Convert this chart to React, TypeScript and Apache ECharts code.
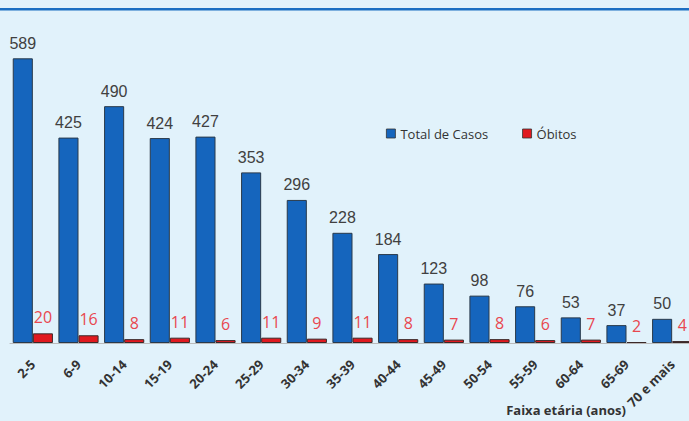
import React, { useEffect, useRef } from "react";
import * as echarts from "echarts";

const categories = ["2-5", "6-9", "10-14", "15-19", "20-24", "25-29", "30-34", "35-39", "40-44", "45-49", "50-54", "55-59", "60-64", "65-69", "70 e mais"];
const totalCasos = [589, 425, 490, 424, 427, 353, 296, 228, 184, 123, 98, 76, 53, 37, 50];
const obitos = [20, 16, 8, 11, 6, 11, 9, 11, 8, 7, 8, 6, 7, 2, 4];
const seriesNames = ["Total de Casos", "Óbitos"];
const xTitle = "Faixa etária (anos)";

export default function App() {
  const ref = useRef<HTMLDivElement>(null);
  useEffect(() => {
    document.body.style.margin = "0";
    document.body.style.background = "#e1f2fb";
    const chart = echarts.init(ref.current!, null, { renderer: "svg" });
    chart.setOption({
      animation: false,
      backgroundColor: "#e1f2fb",
      grid: { left: 10, right: 0, top: 53, bottom: 78 },
      legend: {
        left: 381,
        top: 122,
        itemGap: 34,
        itemWidth: 9,
        itemHeight: 9,
        icon: "rect",
        textStyle: { fontFamily: "Open Sans", fontSize: 13, color: "#333" },
        data: [
          { name: seriesNames[0], itemStyle: { borderColor: "#333", borderWidth: 0.8 } },
          { name: seriesNames[1], itemStyle: { borderColor: "#333", borderWidth: 0.8 } },
        ],
      },
      xAxis: {
        type: "category",
        data: categories,
        axisLine: { show: true, lineStyle: { color: "#bbb", width: 1 } },
        axisTick: { show: false },
        axisLabel: {
          rotate: 45,
          interval: 0,
          margin: 19,
          fontFamily: "Open Sans",
          fontWeight: "bold",
          fontSize: 13,
          color: "#333",
        },
      },
      yAxis: {
        type: "value",
        min: 0,
        max: 600,
        show: false,
        splitLine: { show: false },
      },
      graphic: [
        {
          type: "rect",
          shape: { x: 0, y: 8, width: 700, height: 2.5 },
          style: { fill: "#1b6ec2" },
        },
        {
          type: "text",
          x: 566,
          y: 410,
          style: {
            text: xTitle,
            fontFamily: "Open Sans",
            fontWeight: "bold",
            fontSize: 13,
            fill: "#333",
            align: "center",
            verticalAlign: "middle",
          },
        },
      ],
      series: [
        {
          name: seriesNames[0],
          type: "bar",
          data: totalCasos,
          barGap: "0%",
          barCategoryGap: "12%",
          itemStyle: { color: "#1565bd", borderColor: "#2a3a4a", borderWidth: 1 },
          label: {
            show: true,
            position: "top",
            distance: 7,
            fontFamily: "Liberation Sans",
            fontSize: 16,
            color: "#404040",
          },
        },
        {
          name: seriesNames[1],
          type: "bar",
          data: obitos,
          itemStyle: { color: "#e0191f", borderColor: "#3a2a2a", borderWidth: 1 },
          label: {
            show: true,
            position: "top",
            distance: 8,
            fontFamily: "Open Sans",
            fontSize: 16,
            color: "#e8474f",
          },
        },
      ],
    });
    return () => chart.dispose();
  }, []);
  return (
    <div style={{ width: 689, height: 421, overflow: "hidden", position: "relative" }}>
      <div ref={ref} style={{ width: 695, height: 421 }} />
    </div>
  );
}
